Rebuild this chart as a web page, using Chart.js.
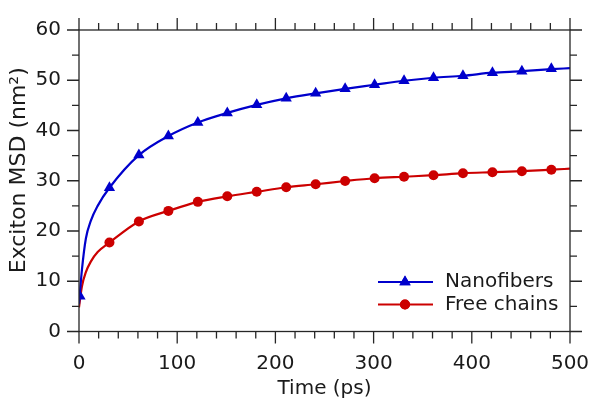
<!DOCTYPE html>
<html>
<head>
<meta charset="utf-8">
<script src="https://cdn.jsdelivr.net/npm/chart.js@4"></script>
<style>
  html, body { margin: 0; padding: 0; background: #fff; }
  canvas { display: block; }
</style>
</head>
<body>
<canvas id="msdChart" width="590" height="398"></canvas>
<script>
// markers (time in ps, MSD in nm^2)
const markerTime = [1, 31, 61, 91, 121, 151, 181, 211, 241, 271, 301, 331, 361, 391, 421, 451, 481];
const nanofiberMarkers = [7.0, 28.6, 35.1, 38.9, 41.6, 43.5, 45.1, 46.4, 47.4, 48.3, 49.1, 49.9, 50.5, 50.9, 51.5, 51.8, 52.3];
const freeChainMarkers = [null, 17.7, 21.9, 24.0, 25.8, 26.9, 27.8, 28.7, 29.3, 29.95, 30.5, 30.8, 31.1, 31.5, 31.7, 31.9, 32.2];

// the smooth fit curves, sampled by eye
const fitTime = [0, 3, 7, 12, 19, 31, 61, 91, 121, 151, 181, 211, 241, 271, 301, 331, 361, 391, 421, 451, 481, 500];
const nanofiberFit = [5.5, 12.3, 18.5, 22.0, 25.0, 28.6, 35.1, 38.9, 41.6, 43.5, 45.1, 46.4, 47.4, 48.3, 49.1, 49.9, 50.5, 50.9, 51.5, 51.8, 52.2, 52.4];
const freeChainFit = [4.8, 9.0, 11.8, 13.9, 15.8, 17.7, 21.9, 24.0, 25.8, 26.9, 27.8, 28.7, 29.3, 29.95, 30.5, 30.8, 31.1, 31.5, 31.7, 31.9, 32.2, 32.4];

const seriesNames = ['Nanofibers', 'Free chains'];
const xTicks = [0, 100, 200, 300, 400, 500];
const yTicks = [0, 10, 20, 30, 40, 50, 60];

const blue = '#0000cc';
const red = '#cc0000';
const axisColor = '#262626';
const textColor = '#1a1a1a';

Chart.defaults.font.family = "'DejaVu Sans', sans-serif";
Chart.defaults.color = textColor;

function pairs(xs, ys) {
    return xs.map((x, i) => ({ x: x, y: ys[i] }));
}

// box + outward tick marks like the original (major and minor)
const frame = {
    id: 'frame',
    afterDatasetsDraw(chart) {
        const { ctx, chartArea: a, scales: { x, y } } = chart;
        ctx.save();
        ctx.strokeStyle = axisColor;
        ctx.lineWidth = 1.3;
        ctx.strokeRect(a.left, a.top, a.right - a.left, a.bottom - a.top);
        ctx.beginPath();
        for (let v = 0; v <= 500; v += 20) {
            const px = x.getPixelForValue(v);
            const len = v % 100 === 0 ? 12 : 7;
            ctx.moveTo(px, a.bottom); ctx.lineTo(px, a.bottom + len);
            ctx.moveTo(px, a.top); ctx.lineTo(px, a.top - len);
        }
        for (let v = 0; v <= 60; v += 5) {
            const py = y.getPixelForValue(v);
            const len = v % 10 === 0 ? 12 : 7;
            ctx.moveTo(a.left, py); ctx.lineTo(a.left - len, py);
            ctx.moveTo(a.right, py); ctx.lineTo(a.right + len, py);
        }
        ctx.stroke();
        ctx.restore();
    }
};

// legend with line + marker, lower right inside the axes
const lineLegend = {
    id: 'lineLegend',
    afterDraw(chart) {
        const { ctx } = chart;
        const styles = [
            { color: blue, pointStyle: 'triangle', radius: 6.5 },
            { color: red, pointStyle: 'circle', radius: 5 }
        ];
        ctx.save();
        seriesNames.forEach((name, i) => {
            const yy = 282 + i * 22.5;
            const s = styles[i];
            ctx.strokeStyle = s.color;
            ctx.lineWidth = 2.2;
            ctx.beginPath();
            ctx.moveTo(378, yy);
            ctx.lineTo(433, yy);
            ctx.stroke();
            ctx.fillStyle = s.color;
            Chart.helpers.drawPoint(ctx, { pointStyle: s.pointStyle, radius: s.radius, rotation: 0, borderWidth: 0 }, 405, yy);
            ctx.fill();
            ctx.fillStyle = textColor;
            ctx.font = "20px 'DejaVu Sans'";
            ctx.textBaseline = 'middle';
            ctx.fillText(name, 445, yy);
        });
        ctx.restore();
    }
};

new Chart(document.getElementById('msdChart'), {
    type: 'line',
    data: {
        datasets: [{
            label: seriesNames[0] + ' markers',
            data: pairs(markerTime, nanofiberMarkers),
            showLine: false,
            pointStyle: 'triangle',
            pointRadius: 6.5,
            pointBackgroundColor: blue,
            pointBorderColor: blue,
            pointBorderWidth: 0,
            clip: 0
        }, {
            label: seriesNames[1] + ' markers',
            data: pairs(markerTime, freeChainMarkers),
            showLine: false,
            pointStyle: 'circle',
            pointRadius: 5,
            pointBackgroundColor: red,
            pointBorderColor: red,
            pointBorderWidth: 0,
            clip: 0
        }, {
            label: seriesNames[0],
            data: pairs(fitTime, nanofiberFit),
            borderColor: blue,
            borderWidth: 2.2,
            pointRadius: 0,
            cubicInterpolationMode: 'monotone',
            clip: 0
        }, {
            label: seriesNames[1],
            data: pairs(fitTime, freeChainFit),
            borderColor: red,
            borderWidth: 2.2,
            pointRadius: 0,
            cubicInterpolationMode: 'monotone',
            clip: 0
        }]
    },
    options: {
        responsive: false,
        animation: false,
        events: [],
        // label overflow is added on top of this padding
        layout: { padding: { top: 6, right: 0, left: 0, bottom: 0 } },
        plugins: {
            legend: { display: false },
            tooltip: { enabled: false }
        },
        scales: {
            x: {
                type: 'linear',
                min: 0,
                max: 500,
                afterBuildTicks: s => { s.ticks = xTicks.map(v => ({ value: v })); },
                afterFit: s => {
                    s.height = 66.5;
                    s.paddingLeft = 0;
                    s.paddingRight = 20;
                },
                grid: { display: false, drawTicks: false },
                border: { display: false },
                ticks: { padding: 20, maxRotation: 0, color: textColor, font: { size: 20 } },
                title: {
                    display: true,
                    text: 'Time (ps)',
                    color: textColor,
                    font: { size: 20, lineHeight: 1 },
                    padding: { top: 0, bottom: -1 }
                }
            },
            y: {
                min: 0,
                max: 60,
                afterBuildTicks: s => { s.ticks = yTicks.map(v => ({ value: v })); },
                afterFit: s => { s.width = 79; },
                grid: { display: false, drawTicks: false },
                border: { display: false },
                ticks: { padding: 18, color: textColor, font: { size: 20 } },
                title: {
                    display: true,
                    // leading spaces nudge the centred label upward, as in the original
                    text: '   Exciton MSD (nm²)',
                    color: textColor,
                    font: { size: 22 },
                    padding: { top: 6, bottom: 0 }
                }
            }
        }
    },
    plugins: [frame, lineLegend]
});
</script>
</body>
</html>
